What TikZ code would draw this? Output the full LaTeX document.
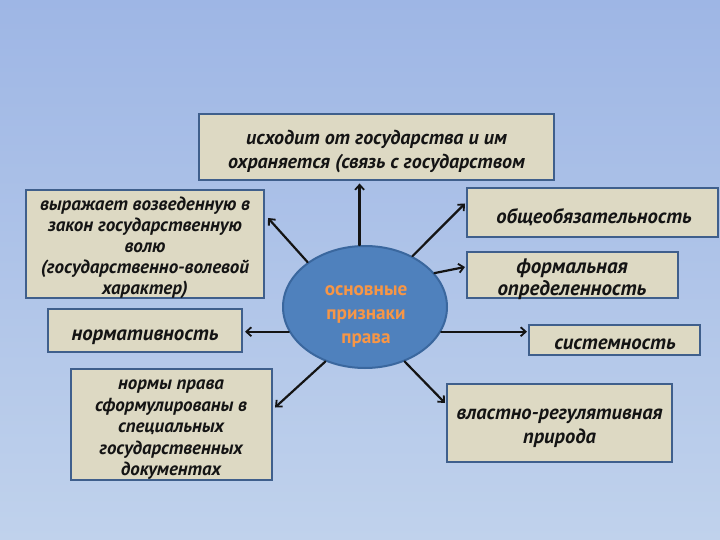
\documentclass[tikz,border=0pt]{standalone}
\usepackage{fontspec}
\setmainfont{PT Sans}
\usetikzlibrary{arrows.meta,shapes.geometric}
\definecolor{bgtop}{HTML}{9EB6E5}
\definecolor{bgbot}{HTML}{C0D2EC}
\definecolor{boxfill}{HTML}{DDD9C3}
\definecolor{boxline}{HTML}{3F5F8C}
\definecolor{ellfill}{HTML}{4F81BD}
\definecolor{ellline}{HTML}{3A679E}
\definecolor{elltext}{HTML}{F79646}
\newcommand{\fs}[2]{\fontsize{#1}{#2}\selectfont\bfseries\itshape}
\begin{document}
\begin{tikzpicture}[x=1pt,y=-1pt,
  box/.style={draw=boxline, line width=2pt, fill=boxfill, inner sep=0pt},
  txt/.style={inner sep=0pt, align=center, text=black!92},
  arr/.style={line width=2.2pt, draw=black!92, line cap=round,
    -{Straight Barb[length=5pt,width=9pt,line width=1.8pt]}}]
\shade[top color=bgtop,bottom color=bgbot] (0,0) rectangle (720,540);
\useasboundingbox (0,0) rectangle (720,540);

\node[box, minimum width=355pt, minimum height=66pt] (b1) at (376.5,147) {};
\node[box, minimum width=238pt, minimum height=108pt] (b2) at (145,244) {};
\node[box, minimum width=194pt, minimum height=43pt] (b3) at (145,330.5) {};
\node[box, minimum width=201pt, minimum height=111pt] (b4) at (171.5,424.5) {};
\node[box, minimum width=251pt, minimum height=49pt] (b5) at (592.5,212.5) {};
\node[box, minimum width=211pt, minimum height=46pt] (b6) at (572.5,275) {};
\node[box, minimum width=171pt, minimum height=30pt] (b7) at (614.5,340) {};
\node[box, minimum width=225pt, minimum height=78pt] (b8) at (559.5,423) {};

\node[txt, font=\fs{20}{24}] (t1) at (376.5,152)
  {исходит от государства и им\\охраняется (связь с государством};
\node[txt, font=\fs{19}{21}] (t2) at (145,248)
  {выражает возведенную в\\закон государственную\\волю\\(государственно-волевой\\характер)};
\node[txt, font=\fs{20.8}{21}] (t3) at (145,337) {нормативность};
\node[txt, font=\fs{18.9}{21.5}] (t4) at (171,430)
  {нормы права\\сформулированы в\\специальных\\государственных\\документах};
\node[txt, font=\fs{20.6}{21}] (t5) at (594,217) {общеобязательность};
\node[txt, font=\fs{21}{22}] (t6) at (572,279) {формальная\\определенность};
\node[txt, font=\fs{20.7}{21}] (t7) at (615,344) {системность};
\node[txt, font=\fs{20.5}{24}] (t8) at (559.5,428) {властно-регулятивная\\природа};

\node[ellipse, draw=ellline, line width=2pt, fill=ellfill, minimum width=164pt, minimum height=122pt,
  inner sep=0pt] (e) at (365,307) {};
\node[txt, text=elltext, font=\fontsize{19.2}{24}\selectfont\bfseries] (te) at (366,316)
  {основные\\признаки\\права};

\draw[arr, shorten >=2.5pt] (e.95) -- (e.95 |- b1.south);
\draw[arr] (e.142) -- ([xshift=3pt,yshift=26pt]b2.east);
\draw[arr, shorten >=2pt] (e.198) -- (e.198 -| b3.east);
\draw[arr] (e.234) -- ([xshift=2pt,yshift=17pt]b4.east);
\draw[arr] (e.47) -- ([xshift=-1pt,yshift=9pt]b5.west);
\draw[arr] (e.26) -- ([xshift=-1pt,yshift=8pt]b6.west);
\draw[arr, shorten >=1pt] (e.342) -- (e.342 -| b7.west);
\draw[arr] (e.306) -- ([xshift=-1pt,yshift=20pt]b8.west);
\end{tikzpicture}
\end{document}
